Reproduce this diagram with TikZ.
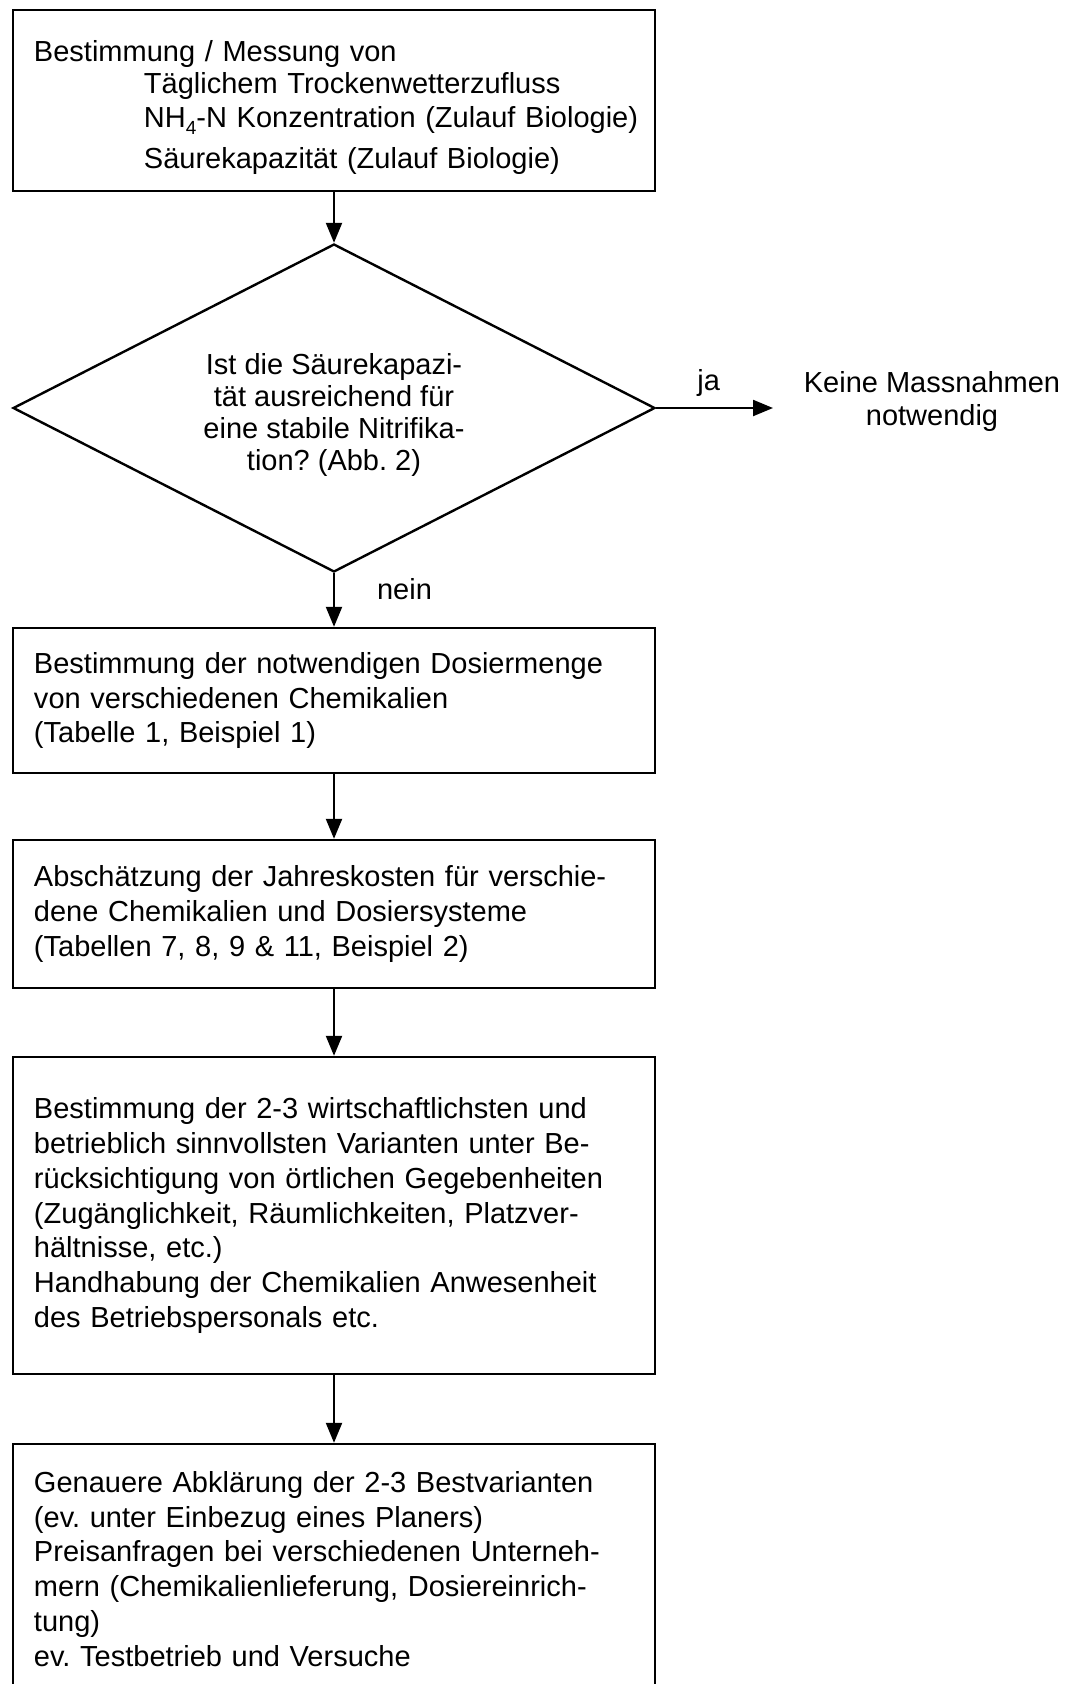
\documentclass[tikz,border=0pt]{standalone}
\usepackage{fontspec}
\setmainfont{Liberation Sans}
\frenchspacing
\usetikzlibrary{shapes.geometric,arrows.meta}

\tikzset{
  kasten/.style={draw, line width=2.4pt, rectangle, text width=600pt, inner xsep=21pt, inner ysep=0pt, align=left, font=\fontsize{29}{34.9}\selectfont},
  entscheid/.style={draw, line width=2.4pt, diamond, aspect=1.96, minimum width=642pt, minimum height=328pt, inner sep=0pt, align=center, font=\fontsize{29}{32.2}\selectfont},
  beschr/.style={align=center, inner sep=0pt, font=\fontsize{29}{33}\selectfont},
  pfeil/.style={-{Triangle[length=20pt,width=16pt]}, line width=2.2pt}
}

\begin{document}
\begin{tikzpicture}[x=1pt, y=-1pt]
  \useasboundingbox (0,0) rectangle (1067,1684);

  % Messung
  \node[kasten, minimum height=181pt] (mess) at (334,100.5) {\rule{0pt}{35pt}Bestimmung / Messung von\\[-3pt]
    \hspace*{110pt}Täglichem Trockenwetterzufluss\\
    \hspace*{110pt}\mbox{NH\raisebox{-7pt}{\fontsize{19}{19}\selectfont 4}-N Konzentration (Zulauf Biologie)}\\[6pt]
    \hspace*{110pt}Säurekapazität (Zulauf Biologie)};

  % Entscheid
  \node[entscheid] (frage) at (334,408) {\rule{0pt}{35pt}Ist die Säurekapazi-\\tät ausreichend für\\eine stabile Nitrifika-\\tion? (Abb. 2)};
  \node[beschr] (keine) at (932,401) {Keine Massnahmen\\notwendig};
  \coordinate (jaend) at (773,408);

  % Schritte
  \node[kasten, minimum height=145pt] (dosis) at (334,700.5) {Bestimmung der notwendigen Dosiermenge\\von verschiedenen Chemikalien\\(Tabelle 1, Beispiel 1)};
  \node[kasten, minimum height=148pt] (kosten) at (334,914) {Abschätzung der Jahreskosten für verschie-\\dene Chemikalien und Dosiersysteme\\(Tabellen 7, 8, 9 \& 11, Beispiel 2)};
  \node[kasten, minimum height=317pt] (varianten) at (334,1215.5) {Bestimmung der 2-3 wirtschaftlichsten und\\betrieblich sinnvollsten Varianten unter Be-\\rücksichtigung von örtlichen Gegebenheiten\\(Zugänglichkeit, Räumlichkeiten, Platzver-\\hältnisse, etc.)\\Handhabung der Chemikalien Anwesenheit\\des Betriebspersonals etc.};
  \node[kasten, minimum height=250pt] (abklaerung) at (334,1569) {Genauere Abklärung der 2-3 Bestvarianten\\(ev. unter Einbezug eines Planers)\\Preisanfragen bei verschiedenen Unterneh-\\mern (Chemikalienlieferung, Dosiereinrich-\\tung)\\ev. Testbetrieb und Versuche};

  % Pfeile
  \draw[pfeil] (mess.south) -- (frage.north);
  \draw[pfeil] (frage.east) -- (jaend) node[beschr, pos=0.45, above=10pt] {ja};
  \draw[pfeil] (frage.south) -- (dosis.north) node[beschr, pos=0.3, right=42pt] {nein};
  \draw[pfeil] (dosis.south) -- (kosten.north);
  \draw[pfeil] (kosten.south) -- (varianten.north);
  \draw[pfeil] (varianten.south) -- (abklaerung.north);
\end{tikzpicture}
\end{document}
